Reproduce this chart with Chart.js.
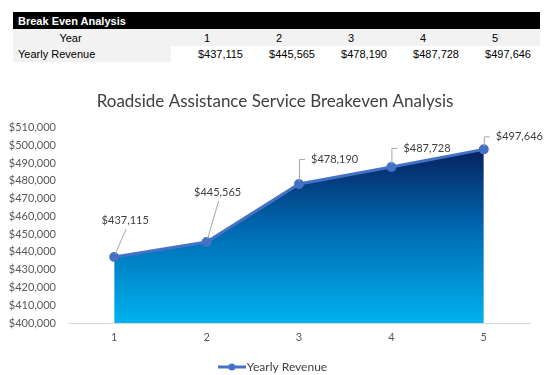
<!DOCTYPE html>
<html>
<head>
<meta charset="utf-8">
<script src="https://cdn.jsdelivr.net/npm/chart.js@4.4.1/dist/chart.umd.min.js"></script>
<style>
  body { margin: 0; background: #fff; width: 555px; height: 375px; position: relative; overflow: hidden; }
  table.be { position: absolute; left: 13px; top: 12px; border-collapse: collapse; font: 11px "Liberation Sans", Arial, sans-serif; color: #000; table-layout: fixed; }
  table.be td { padding: 0; height: 17px; white-space: nowrap; }
  table.be tr.head td { background: #000; color: #fff; font-weight: bold; padding-left: 5px; height: 17px; }
  table.be tr.year td { background: #f2f2f2; text-align: center; }
  table.be tr.rev td { height: 16px; }
  table.be tr.rev td.lbl { background: #f2f2f2; padding-left: 5px; }
  table.be tr.rev td.num { text-align: right; padding-right: 0; }
  #wrap { position: absolute; left: 0; top: 70px; }
</style>
</head>
<body>
<table class="be" id="tbl">
  <colgroup>
    <col style="width:115px"><col style="width:43px">
    <col style="width:72px"><col style="width:72px"><col style="width:72px"><col style="width:72px"><col style="width:72px">
    <col style="width:9px">
  </colgroup>
  <tr class="head"><td colspan="8">Break Even Analysis</td></tr>
  <tr class="year" id="yearRow"></tr>
  <tr class="rev" id="revRow"></tr>
</table>
<div id="wrap"><canvas id="chart" width="555" height="313"></canvas></div>
<script>
const years = ['1', '2', '3', '4', '5']
const revenue = [437115, 445565, 478190, 487728, 497646]
const seriesName = 'Yearly Revenue'
const chartTitle = 'Roadside Assistance Service Breakeven Analysis'
const yMin = 400000
const yMax = 510000
const yStep = 10000

const money = (v) => '$' + v.toLocaleString('en-US')

// table above the chart
const yearRow = document.getElementById('yearRow')
yearRow.innerHTML = '<td>Year</td><td></td>' + years.map(y => `<td>${y}</td>`).join('') + '<td></td>'
const revRow = document.getElementById('revRow')
revRow.innerHTML = `<td class="lbl" colspan="2">${seriesName}</td>` +
    revenue.map(v => `<td class="num">${money(v)}</td>`).join('') + '<td></td>'

// legend marker: line with a dot
const legendIcon = document.createElement('canvas')
legendIcon.width = 28
legendIcon.height = 8
{
    const c = legendIcon.getContext('2d')
    c.strokeStyle = '#4472C4'
    c.lineWidth = 3
    c.beginPath()
    c.moveTo(0, 4)
    c.lineTo(28, 4)
    c.stroke()
    c.fillStyle = '#4472C4'
    c.beginPath()
    c.arc(14, 4, 3.5, 0, Math.PI * 2)
    c.fill()
}

// label placement per point (offset from the point, leader style)
const labelPlacement = [
    {dx: 11, dy: -37, align: 'center', leader: 'straight'},
    {dx: 11, dy: -50, align: 'center', leader: 'straight'},
    {dx: 12, dy: -25, align: 'left', leader: 'elbow'},
    {dx: 12, dy: -19, align: 'left', leader: 'elbow'},
    {dx: 12, dy: -13, align: 'left', leader: 'elbow'}
]

const dataLabels = {
    id: 'dataLabels',
    afterDatasetsDraw(chart) {
        const ctx = chart.ctx
        const meta = chart.getDatasetMeta(0)
        ctx.save()
        ctx.font = '11px Lato, sans-serif'
        ctx.fillStyle = '#404040'
        ctx.strokeStyle = '#a6a6a6'
        ctx.lineWidth = 1
        ctx.textBaseline = 'middle'
        meta.data.forEach((pt, i) => {
            const p = labelPlacement[i]
            const tx = pt.x + p.dx
            const ty = pt.y + p.dy
            ctx.beginPath()
            if (p.leader === 'straight') {
                ctx.moveTo(pt.x + 1, pt.y - 3)
                ctx.lineTo(tx + 1, ty + 9)
            } else {
                ctx.moveTo(pt.x + 0.5, pt.y - 3)
                ctx.lineTo(pt.x + 0.5, ty + 0.5)
                ctx.lineTo(pt.x + 6, ty + 0.5)
            }
            ctx.stroke()
            ctx.textAlign = p.align
            ctx.fillText(money(revenue[i]), tx, ty)
        })
        ctx.restore()
    }
}

const areaGradient = (context) => {
    const chart = context.chart
    const {ctx, chartArea, scales} = chart
    if (!chartArea) return '#0070c0'
    const top = scales.y.getPixelForValue(Math.max(...revenue))
    const g = ctx.createLinearGradient(0, top, 0, chartArea.bottom)
    g.addColorStop(0, '#06215f')
    g.addColorStop(0.45, '#0068b0')
    g.addColorStop(1, '#00b2ef')
    return g
}

const chart = new Chart(document.getElementById('chart'), {
    type: 'line',
    data: {
        labels: years,
        datasets: [{
            label: seriesName,
            data: revenue,
            fill: 'start',
            backgroundColor: areaGradient,
            borderColor: '#4472C4',
            borderWidth: 3,
            pointRadius: 3.5,
            pointBackgroundColor: '#4472C4',
            pointBorderColor: '#4472C4',
            tension: 0
        }]
    },
    options: {
        responsive: false,
        animation: false,
        layout: {padding: {left: 0, right: 5, top: 0, bottom: 0}},
        plugins: {
            title: {
                display: true,
                text: chartTitle,
                color: '#404040',
                font: {family: 'Lato', size: 17, weight: 'normal'},
                padding: {top: 21, bottom: 16}
            },
            legend: {
                position: 'bottom',
                labels: {
                    usePointStyle: true,
                    pointStyle: legendIcon,
                    pointStyleWidth: 18,
                    color: '#404040',
                    font: {family: 'Lato', size: 12},
                    padding: 5
                }
            },
            tooltip: {enabled: false}
        },
        scales: {
            x: {
                offset: true,
                grid: {display: false, drawTicks: false},
                border: {color: '#d9d9d9'},
                afterFit: (s) => { s.height = 33 },
                ticks: {color: '#595959', font: {family: 'Lato', size: 11}, padding: 8}
            },
            y: {
                min: yMin,
                max: yMax,
                afterFit: (s) => { s.width = 68 },
                grid: {display: false, drawTicks: false},
                border: {display: false},
                ticks: {
                    stepSize: yStep,
                    autoSkip: false,
                    color: '#595959',
                    font: {family: 'Lato', size: 11},
                    padding: 12,
                    callback: (v) => money(v)
                }
            },
            // empty right-hand axis, only keeps room on the right of the plot
            yRight: {
                position: 'right',
                afterFit: (s) => { s.width = 20 },
                grid: {display: false, drawTicks: false},
                border: {display: false},
                ticks: {display: false}
            }
        }
    },
    plugins: [dataLabels]
})
</script>
</body>
</html>
